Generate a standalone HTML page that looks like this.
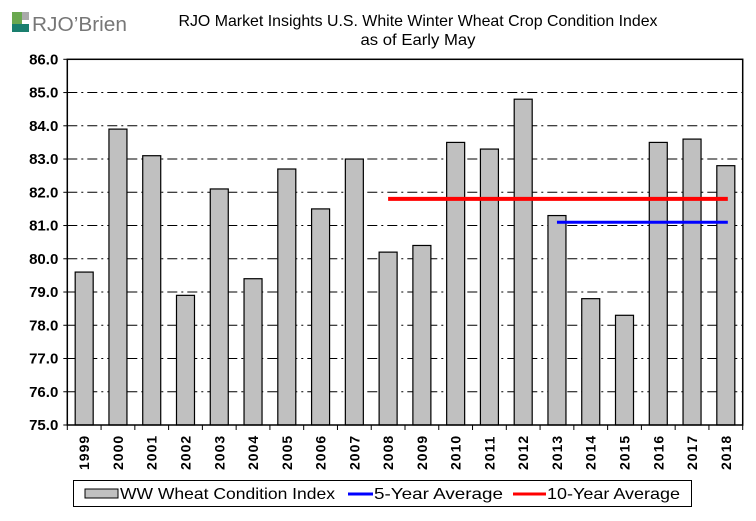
<!DOCTYPE html>
<html><head><meta charset="utf-8"><style>
body{margin:0;background:#fff;}
svg text{font-family:"Liberation Sans",Arial,sans-serif;}
</style></head><body>
<svg width="756" height="516" xmlns="http://www.w3.org/2000/svg">
<g>
<rect x="12" y="12" width="10" height="18" fill="#6aa84f"/>
<rect x="22" y="12" width="7" height="8" fill="#aaa"/>
<rect x="12" y="24" width="17" height="8" fill="#1a7f6e"/>
<text x="32" y="31" font-size="20" fill="#777" textLength="95" lengthAdjust="spacingAndGlyphs">RJO’Brien</text>
</g>
<text x="418" y="26" font-size="16" text-anchor="middle" textLength="479" lengthAdjust="spacingAndGlyphs">RJO Market Insights U.S. White Winter Wheat Crop Condition Index</text>
<text x="418" y="45" font-size="16" text-anchor="middle" textLength="115" lengthAdjust="spacingAndGlyphs">as of Early May</text>
<g id="grid"></g><g id="bars"></g><g id="lines"></g><g id="axes"></g>
<g>
<rect x="73.5" y="480.5" width="618" height="26" fill="#fff" stroke="#000"/>
<rect x="85" y="489" width="33" height="9" fill="#c0c0c0" stroke="#000"/>
<text x="120" y="499" font-size="16" textLength="215" lengthAdjust="spacingAndGlyphs">WW Wheat Condition Index</text>
<line x1="348" y1="494" x2="373" y2="494" stroke="#0000ff" stroke-width="3"/>
<text x="374" y="499" font-size="16" textLength="129" lengthAdjust="spacingAndGlyphs">5-Year Average</text>
<line x1="513" y1="494" x2="546" y2="494" stroke="#ff0000" stroke-width="3"/>
<text x="547" y="499" font-size="16" textLength="133" lengthAdjust="spacingAndGlyphs">10-Year Average</text>
</g>
</svg>
<script>
const years=["1999","2000","2001","2002","2003","2004","2005","2006","2007","2008","2009","2010","2011","2012","2013","2014","2015","2016","2017","2018"];
const values=[79.6,83.9,83.1,78.9,82.1,79.4,82.7,81.5,83.0,80.2,80.4,83.5,83.3,84.8,81.3,78.8,78.3,83.5,83.6,82.8];
const yTicks=[75,76,77,78,79,80,81,82,83,84,85,86];
const avg5=81.1, avg5Start="2013", avg5End="2018";
const avg10=81.8, avg10Start="2008", avg10End="2018";
const NS="http://www.w3.org/2000/svg";
const L=67.3,R=742.7,T=59.3,B=425,ymin=75,ymax=86;
const bw=(R-L)/years.length;
const y=v=>B-(v-ymin)/(ymax-ymin)*(B-T);
const xc=i=>L+(i+0.5)*bw;
function mk(tag,attrs,parent){const e=document.createElementNS(NS,tag);for(const k in attrs)e.setAttribute(k,attrs[k]);document.getElementById(parent).appendChild(e);return e;}
yTicks.forEach(t=>{
  if(t>ymin&&t<ymax){const g=mk('line',{x1:L,x2:R,y1:y(t),y2:y(t),stroke:'#000','stroke-width':1,'stroke-dasharray':'10,4,2,4'},'grid');
  
  }
  const tl=mk('text',{x:L-9,y:y(t)+5,'font-size':15,'font-weight':'bold','text-anchor':'end'},'axes');
  tl.textContent=t.toFixed(1);
  
  
  const tk=mk('line',{x1:L-4,x2:L,y1:y(t),y2:y(t),stroke:'#000'},'axes');
  
  
});
values.forEach((v,i)=>{
  const r=mk('rect',{x:xc(i)-9,y:y(v),width:18,height:B-y(v),fill:'#c0c0c0',stroke:'#000','stroke-width':1.2},'bars');
  
  
});
years.forEach((yr,i)=>{
  const tx=mk('text',{transform:`translate(${xc(i)+5},470) rotate(-90)`,'font-size':14,'font-weight':'bold','letter-spacing':'1'},'axes');
  tx.textContent=yr;
  
  
});
for(let i=0;i<=years.length;i++){
  const tk=mk('line',{x1:L+i*bw,x2:L+i*bw,y1:B,y2:B+5,stroke:'#000'},'axes');
  
  
}
const ax=mk('rect',{x:L,y:T,width:R-L,height:B-T,fill:'none',stroke:'#000','stroke-width':1.5},'axes');


const l10=mk('line',{x1:xc(years.indexOf(avg10Start)),x2:xc(years.indexOf(avg10End))+2,y1:y(avg10),y2:y(avg10),stroke:'#ff0000','stroke-width':4},'lines');


const l5=mk('line',{x1:xc(years.indexOf(avg5Start)),x2:xc(years.indexOf(avg5End))+2,y1:y(avg5),y2:y(avg5),stroke:'#0000ff','stroke-width':3},'lines');


</script>
</body></html>
